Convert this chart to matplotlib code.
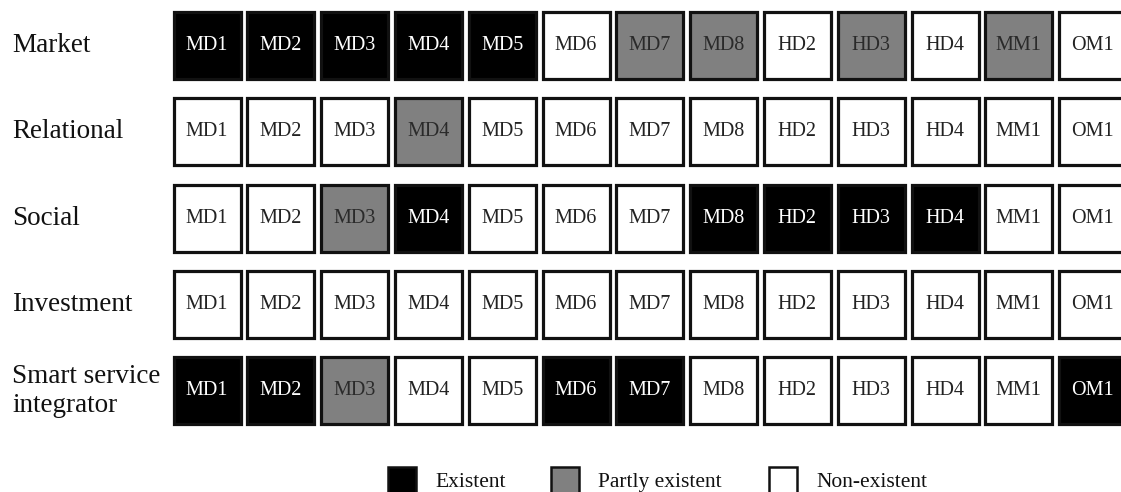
import matplotlib
matplotlib.use("Agg")
import matplotlib.pyplot as plt
from matplotlib.patches import Rectangle

plt.rcParams["font.family"] = ["Liberation Serif", "DejaVu Serif"]

# Datos: dimensiones de valor y estado de cada indicador
dimensions = ["Market", "Relational", "Social", "Investment", "Smart service\nintegrator"]
indicators = ["MD1", "MD2", "MD3", "MD4", "MD5", "MD6", "MD7", "MD8",
              "HD2", "HD3", "HD4", "MM1", "OM1"]
# E = existent, P = partly existent, N = non-existent
market     = ["E", "E", "E", "E", "E", "N", "P", "P", "N", "P", "N", "P", "N"]
relational = ["N", "N", "N", "P", "N", "N", "N", "N", "N", "N", "N", "N", "N"]
social     = ["N", "N", "P", "E", "N", "N", "N", "E", "E", "E", "E", "N", "N"]
investment = ["N", "N", "N", "N", "N", "N", "N", "N", "N", "N", "N", "N", "N"]
smart      = ["E", "E", "P", "N", "N", "E", "E", "N", "N", "N", "N", "N", "E"]
status_rows = [market, relational, social, investment, smart]

legend_keys = ["E", "P", "N"]
legend_labels = ["Existent", "Partly existent", "Non-existent"]

fill = {"E": "#000000", "P": "#808080", "N": "#ffffff"}
txt_col = {"E": "#ffffff", "P": "#2a2a2a", "N": "#222222"}

# Layout (pixel units)
W, H = 1121, 492
x0, dx, bw = 173.5, 73.8, 67
y0, dy, bh = 12, 86.3, 67

fig = plt.figure(figsize=(W / 100, H / 100), dpi=100)
ax = fig.add_axes([0, 0, 1, 1])
ax.set_xlim(0, W)
ax.set_ylim(H, 0)
ax.axis("off")

for j, (dim, row) in enumerate(zip(dimensions, status_rows)):
    yc = y0 + j * dy + bh / 2
    ax.text(12, yc, dim, ha="left", va="center", fontsize=19.5,
            color="#111111", linespacing=1.2)
    for i, (ind, st) in enumerate(zip(indicators, row)):
        x = x0 + i * dx
        y = y0 + j * dy
        ax.add_patch(Rectangle((x, y), bw, bh, facecolor=fill[st],
                               edgecolor="#111111", linewidth=2.3))
        ax.text(x + bw / 2, y + bh / 2, ind, ha="center", va="center",
                fontsize=14.5, color=txt_col[st])

# Leyenda
leg_x = [388, 551, 769]
leg_y, leg_s = 467, 28
for lx, key, lab in zip(leg_x, legend_keys, legend_labels):
    ax.add_patch(Rectangle((lx, leg_y), leg_s, leg_s, facecolor=fill[key],
                           edgecolor="#111111", linewidth=1.8))
    ax.text(lx + leg_s + 19, leg_y + 20, lab, ha="left", va="baseline",
            fontsize=15.5, color="#111111")

fig.savefig("out.png", dpi=100)
